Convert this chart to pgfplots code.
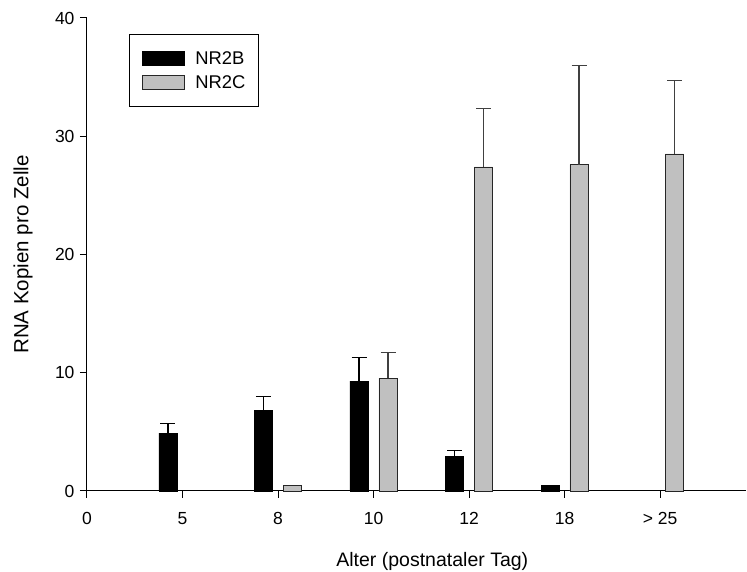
\documentclass[border=0pt]{standalone}
\usepackage{fontspec}
\setmainfont{Liberation Sans}
\usepackage{pgfplots}
\pgfplotsset{compat=1.18}
\definecolor{barGrey}{RGB}{192,192,192}
\begin{document}
\begin{tikzpicture}
\useasboundingbox (-87pt,-81pt) rectangle (660pt,491pt);
\begin{axis}[
  scale only axis,
  width=659pt, height=473pt,
  at={(0,0)}, anchor=south west,
  xmin=0, xmax=6.9,
  ymin=0, ymax=40,
  axis x line*=bottom, axis y line*=left,
  axis line style={line width=1pt},
  xtick={0,1,2,3,4,5,6},
  xticklabels={0,5,8,10,12,18,{> 25}},
  ytick={0,10,20,30,40},
  tick align=outside,
  major tick length=7pt,
  tick style={black, line width=1pt},
  /pgf/number format/assume math mode=true,
  tick label style={font=\fontsize{17.5}{20}\selectfont},
  xticklabel style={yshift=-11pt},
  yticklabel style={xshift=-2pt},
  xlabel={Alter (postnataler Tag)},
  ylabel={RNA Kopien pro Zelle},
  xlabel style={font=\fontsize{19.5}{22}\selectfont, at={(axis description cs:0.524,-0.150)}, anchor=center},
  ylabel style={font=\fontsize{20.5}{23}\selectfont, at={(axis description cs:-0.097,0.5)}, anchor=center, rotate=0},
  ybar, bar width=0.19,
  clip=false,
  legend style={at={(0.0637,0.966)}, anchor=north west, draw=black, line width=1pt,
    font=\fontsize{18.4}{21}\selectfont, inner xsep=13pt, inner ysep=12pt,
    row sep=0pt, column sep=0pt,
    nodes={inner xsep=0pt, inner ysep=0pt, minimum height=24pt}},
  legend cell align=left,
  legend image code/.code={\draw[#1, line width=0.8pt] (0pt,-7pt) rectangle (42pt,7pt); \path (52pt,0pt);},
]
\addplot[bar shift=-0.152, fill=black, draw=black, line width=0.8pt,
  error bars/.cd, y dir=plus, y explicit,
  error bar style={black, line width=1.2pt},
  error mark options={black, rotate=90, mark size=7.5pt, line width=1.2pt}]
  coordinates {
  (1,4.9) +- (0,0.8)
  (2,6.8) +- (0,1.2)
  (3,9.3) +- (0,2.0)
  (4,2.9) +- (0,0.5)
  };
\addplot[bar shift=0.152, fill=barGrey, draw=black!85, line width=0.9pt,
  error bars/.cd, y dir=plus, y explicit,
  error bar style={black!75, line width=1.2pt},
  error mark options={black!75, rotate=90, mark size=7.5pt, line width=1.2pt}]
  coordinates {
  (3,9.55) +- (0,2.15)
  (4,27.4) +- (0,4.95)
  (5,27.6) +- (0,8.35)
  (6,28.5) +- (0,6.2)
  };
\legend{NR2B,NR2C}
\addplot[forget plot, bar shift=-0.152, fill=black, draw=black, line width=0.8pt]
  coordinates {(5,0.45)};
\addplot[forget plot, bar shift=0.152, fill=barGrey, draw=black!85, line width=0.9pt]
  coordinates {(2,0.5)};
\end{axis}
\end{tikzpicture}
\end{document}
